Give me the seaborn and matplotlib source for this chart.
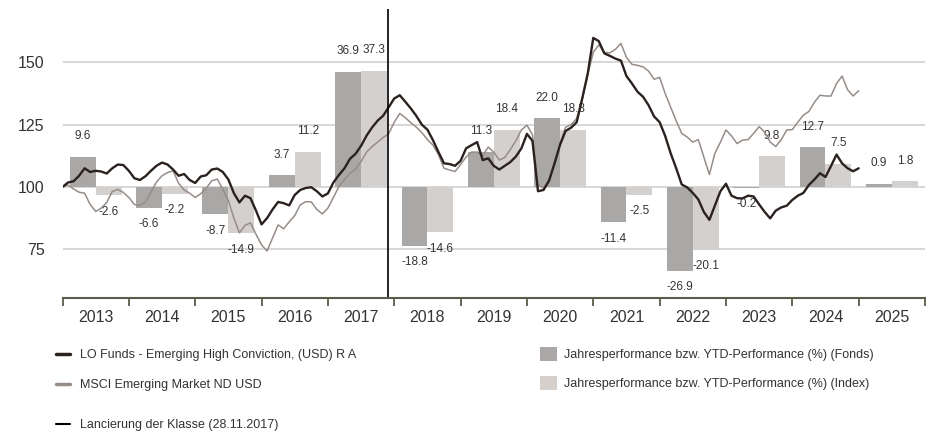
import matplotlib

matplotlib.use("Agg")
import matplotlib.pyplot as plt  # noqa: E402
import numpy as np  # noqa: E402
import pandas as pd  # noqa: E402
import seaborn as sns  # noqa: E402
from matplotlib.lines import Line2D  # noqa: E402
from matplotlib.patches import Patch  # noqa: E402

# yearly / YTD performance in %, 2013..2025
years = list(range(2013, 2026))
fund_perf = [9.6, -6.6, -8.7, 3.7, 36.9, -18.8, 11.3, 22.0, -11.4, -26.9, -0.2, 12.7, 0.9]
index_perf = [-2.6, -2.2, -14.9, 11.2, 37.3, -14.6, 18.4, 18.3, -2.5, -20.1, 9.8, 7.5, 1.8]

# monthly indexed performance (start = 100), month-ends from 31.12.2012
fund_line = [
    100.0, 101.8, 102.3, 104.5, 107.5, 106.0, 106.5, 106.2, 105.4, 107.5, 109.0, 108.8,
    106.5, 103.5, 102.8, 104.3, 106.5, 108.5, 109.8, 109.0, 107.0, 104.5, 105.2, 102.8,
    101.6, 104.2, 104.7, 107.0, 107.4, 106.0, 103.0, 97.5, 93.8, 96.5, 95.5, 90.5,
    85.0, 87.5, 91.0, 94.0, 93.5, 92.6, 96.8, 98.8, 99.6, 99.9, 98.3, 96.2,
    97.4, 101.8, 104.8, 107.5, 111.3, 113.3, 116.5, 120.6, 123.9, 126.6, 128.6, 132.0,
    135.5, 136.8, 134.2, 131.5, 128.5, 125.0, 123.0, 118.8, 114.0, 109.5, 109.2, 108.5,
    110.5, 115.5, 116.8, 118.0, 110.8, 111.5, 108.5, 107.0, 108.5, 110.0, 112.2, 115.5,
    121.3, 118.5, 98.3, 98.8, 102.5, 109.5, 117.0, 122.5, 123.8, 126.0, 135.5, 145.5,
    159.8, 158.5, 153.6, 152.6, 151.5, 150.7, 144.5, 141.5, 138.2, 136.2, 132.8, 128.3,
    126.0, 120.5, 113.5, 107.5, 101.0, 99.8, 97.6, 95.0, 90.0, 86.8, 92.5, 98.3,
    101.3, 96.5, 95.5, 95.4, 96.5, 96.2, 93.0, 90.0, 87.4, 90.5, 91.8, 92.5,
    94.8, 96.5, 97.6, 100.8, 103.0, 105.5, 104.0, 108.4, 113.0, 109.5, 107.5, 106.3,
    107.5,
]
index_line = [
    100.0, 100.8, 99.2, 97.9, 97.5, 93.0, 90.2, 91.5, 93.8, 98.2, 99.0, 97.8,
    95.8, 93.0, 92.6, 94.0, 98.0, 102.0, 104.5, 105.8, 106.5, 101.5, 98.8, 97.5,
    95.8, 97.3, 99.5, 102.5, 103.2, 99.0, 94.5, 87.5, 81.6, 84.6, 85.6, 81.0,
    76.8, 74.3, 79.5, 84.8, 83.2, 86.0, 88.5, 92.8, 94.1, 94.0, 91.0, 89.2,
    91.5, 95.8, 100.2, 103.0, 105.5, 107.2, 110.2, 114.0, 116.2, 118.0, 119.9, 121.3,
    126.0, 129.5, 127.8, 125.8, 124.0, 121.8, 119.0, 116.8, 113.0, 107.5, 106.8, 106.2,
    109.0, 112.0, 114.0, 114.0, 112.5, 116.0, 114.0, 110.8, 111.8, 115.0, 118.5, 122.9,
    124.8, 121.0, 101.0, 99.5, 102.8, 109.5, 117.5, 124.0, 125.0, 127.5, 135.0, 145.0,
    154.0, 157.0, 154.0, 153.8, 155.2, 157.6, 152.0, 149.2, 148.8, 148.2, 146.5, 143.2,
    144.0, 137.5, 132.0, 126.5, 121.5, 120.0, 118.0, 119.0, 112.0, 105.0, 113.5, 118.0,
    122.9, 120.5, 117.4, 118.8, 119.0, 121.5, 124.2, 122.0, 118.0, 116.2, 119.0, 122.9,
    123.0, 126.0, 128.8, 130.3, 134.0, 136.8, 136.5, 136.5, 141.5, 144.5, 139.0, 136.5,
    138.6,
]
launch = 2017 + (10 + 28 / 30) / 12  # 28.11.2017

y_ticks = [75, 100, 125, 150]

FUND_NAME = "LO Funds - Emerging High Conviction, (USD) R A"
INDEX_NAME = "MSCI Emerging Market ND USD"
BAR_FUND = "Jahresperformance bzw. YTD-Performance (%) (Fonds)"
BAR_INDEX = "Jahresperformance bzw. YTD-Performance (%) (Index)"
LAUNCH_LABEL = "Lancierung der Klasse (28.11.2017)"

C_FUND_LINE = "#2b2220"
C_INDEX_LINE = "#978d88"
C_FUND_BAR = "#aba7a6"
C_INDEX_BAR = "#d5d0cc"
C_AXIS = "#5c5c48"
C_GRID = "#d4d4d4"
TEXT = "#333333"

sns.set_theme(style="white")
plt.rcParams["font.family"] = ["Liberation Sans", "DejaVu Sans"]

W, H = 928, 434
fig = plt.figure(figsize=(W / 100, H / 100), dpi=100)
ax = fig.add_axes([62.5 / W, (H - 298) / H, (925 - 62.5) / W, (298 - 9) / H])
axb = ax.twinx()
ax.set_zorder(axb.get_zorder() + 1)
ax.patch.set_visible(False)

# bars live on their own scale: 0 % sits on the 100 line, 1 % = 1.25 index points
y_lo, y_hi = 55.46, 171.4
bar_scale = 1.25
bar_lim = ((y_lo - 100) / bar_scale, (y_hi - 100) / bar_scale)

bars = pd.DataFrame(
    {
        "year": [y + 0.5 for y in years] * 2,
        "perf": fund_perf + index_perf,
        "series": ["Fonds"] * len(years) + ["Index"] * len(years),
    }
)
sns.barplot(
    data=bars,
    x="year",
    y="perf",
    hue="series",
    hue_order=["Fonds", "Index"],
    palette={"Fonds": C_FUND_BAR, "Index": C_INDEX_BAR},
    native_scale=True,
    width=0.78,
    dodge=True,
    errorbar=None,
    linewidth=0,
    legend=False,
    ax=axb,
)
axb.set_ylim(*bar_lim)
axb.set_yticks([(v - 100) / bar_scale for v in y_ticks])
axb.yaxis.grid(True, color=C_GRID, lw=1.3)
axb.set_axisbelow(True)
axb.tick_params(axis="y", right=False, labelright=False, length=0)
axb.set_ylabel("")
for s in axb.spines.values():
    s.set_visible(False)

half = 0.78 / 4
for y, fv, iv in zip(years, fund_perf, index_perf):
    for xc, v in ((y + 0.5 - half, fv), (y + 0.5 + half, iv)):
        axb.annotate(
            f"{v:.1f}",
            xy=(xc, v),
            xytext=(0, 15 if v >= 0 else -12),
            textcoords="offset points",
            ha="center",
            va="center",
            fontsize=8.5,
            color=TEXT,
        )

t = 2013 + np.arange(len(fund_line)) / 12
sns.lineplot(x=t, y=index_line, color=C_INDEX_LINE, lw=1.1, ax=ax)
sns.lineplot(x=t, y=fund_line, color=C_FUND_LINE, lw=1.7, ax=ax)
ax.axvline(launch, color="black", lw=1.2)

ax.set_ylim(y_lo, y_hi)
ax.set_yticks(y_ticks)
ax.tick_params(axis="y", left=False, length=0, pad=13, labelsize=11.5, labelcolor=TEXT)
ax.set_xlim(2013, 2026)
ax.set_xticks(range(2013, 2027))
ax.set_xticklabels([])
ax.set_xticks([y + 0.5 for y in years], [str(y) for y in years], minor=True)
ax.tick_params(axis="x", which="major", bottom=True, length=6, width=1.3, color=C_AXIS, direction="out")
ax.tick_params(axis="x", which="minor", bottom=True, length=0, pad=9, labelsize=11.5, labelcolor=TEXT)
ax.set_xlabel("")
ax.set_ylabel("")
for side in ("top", "right", "left"):
    ax.spines[side].set_visible(False)
ax.spines["bottom"].set_color(C_AXIS)
ax.spines["bottom"].set_linewidth(1.5)

leg_kw = dict(frameon=False, fontsize=9, labelcolor=TEXT, borderpad=0, borderaxespad=0, loc="upper left")
fig.legend(
    handles=[Line2D([0], [0], color=C_FUND_LINE, lw=2.5), Line2D([0], [0], color=C_INDEX_LINE, lw=2.5)],
    labels=[FUND_NAME, INDEX_NAME],
    bbox_to_anchor=(56 / W, 1 - 349 / H),
    handlelength=1.1,
    handletextpad=0.8,
    labelspacing=1.45,
    **leg_kw,
)
fig.legend(
    handles=[Patch(color=C_FUND_BAR, lw=0), Patch(color=C_INDEX_BAR, lw=0)],
    labels=[BAR_FUND, BAR_INDEX],
    bbox_to_anchor=(540 / W, 1 - 347 / H),
    handlelength=1.35,
    handleheight=1.35,
    handletextpad=0.55,
    labelspacing=1.2,
    **leg_kw,
)
fig.legend(
    handles=[Line2D([0], [0], color="black", lw=1.5)],
    labels=[LAUNCH_LABEL],
    bbox_to_anchor=(56 / W, 1 - 419 / H),
    handlelength=1.1,
    handletextpad=0.8,
    **leg_kw,
)

fig.savefig("out.png", dpi=100)
